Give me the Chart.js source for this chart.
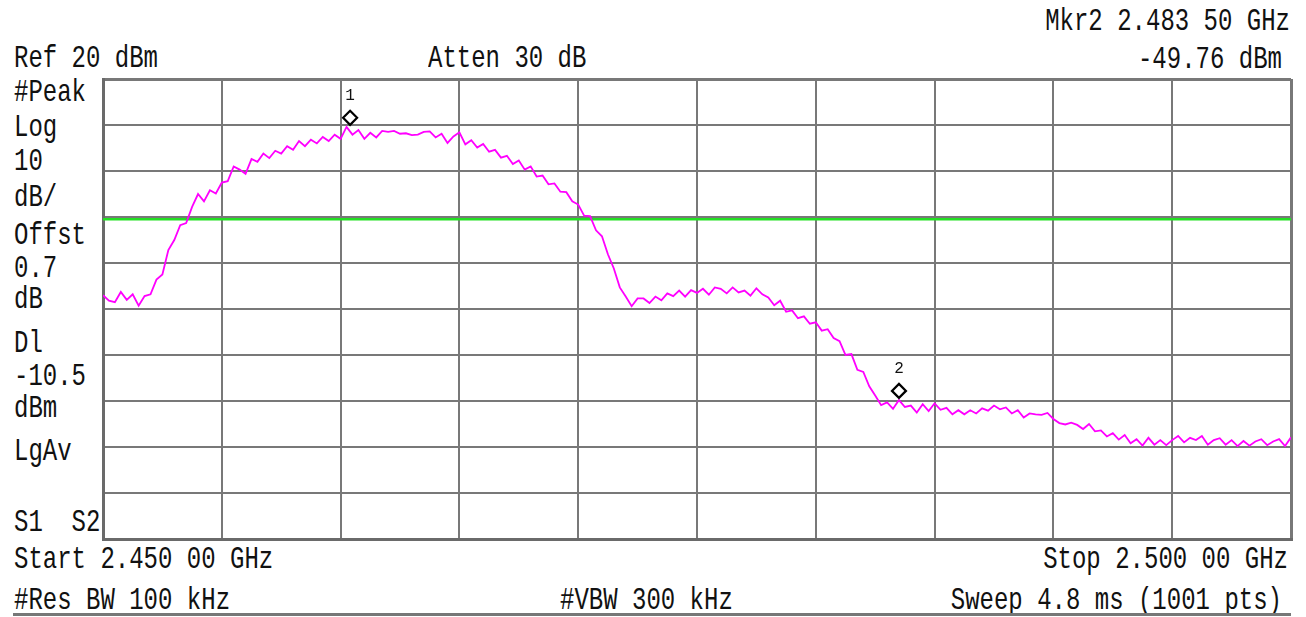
<!DOCTYPE html>
<html>
<head>
<meta charset="utf-8">
<script src="https://cdn.jsdelivr.net/npm/chart.js@4.4.1/dist/chart.umd.min.js"></script>
<style>
  html,body{margin:0;padding:0;background:#fff;}
  body{width:1306px;height:617px;overflow:hidden;position:relative;}
  .t{position:absolute;font-family:'Liberation Mono',monospace;font-size:24px;line-height:24px;white-space:pre;color:#111;transform:scaleY(1.27);transform-origin:0 0;}
  .r{transform-origin:100% 0;}
  #wrap{position:absolute;left:100px;top:76px;width:1194px;height:466px;}
  #rule{position:absolute;left:13px;top:613px;width:1278px;height:3px;background:#777;}
</style>
</head>
<body>
<div class="t r" style="right:16px;top:7px;">Mkr2 2.483 50 GHz</div>
<div class="t r" style="right:24px;top:45px;">-49.76 dBm</div>
<div class="t" style="left:14px;top:44px;">Ref 20 dBm</div>
<div class="t" style="left:428px;top:44px;">Atten 30 dB</div>

<div class="t" style="left:14px;top:78px;">#Peak</div>
<div class="t" style="left:14px;top:113px;">Log</div>
<div class="t" style="left:14px;top:147px;">10</div>
<div class="t" style="left:14px;top:183px;">dB/</div>
<div class="t" style="left:14px;top:221px;">Offst</div>
<div class="t" style="left:14px;top:254px;">0.7</div>
<div class="t" style="left:14px;top:285px;">dB</div>
<div class="t" style="left:14px;top:329px;">Dl</div>
<div class="t" style="left:14px;top:362px;">-10.5</div>
<div class="t" style="left:14px;top:394px;">dBm</div>
<div class="t" style="left:14px;top:437px;">LgAv</div>
<div class="t" style="left:14px;top:508px;">S1  S2</div>

<div class="t" style="left:14px;top:545px;">Start 2.450 00 GHz</div>
<div class="t r" style="right:18px;top:545px;">Stop 2.500 00 GHz</div>
<div class="t" style="left:14px;top:586px;">#Res BW 100 kHz</div>
<div class="t" style="left:560px;top:586px;">#VBW 300 kHz</div>
<div class="t r" style="right:24px;top:586px;">Sweep 4.8 ms (1001 pts)</div>
<div id="rule"></div>

<div id="wrap"><canvas id="c"></canvas></div>

<script>
// ---- data ----
const startFreqMHz = 2450;
const stopFreqMHz = 2500;
const freqTicksMHz = [2450, 2455, 2460, 2465, 2470, 2475, 2480, 2485, 2490, 2495, 2500];
const refLevelDbm = 20;
const bottomLevelDbm = -80;
const displayLineDbm = -10.5;

// trace levels (dBm), evenly spaced over the sweep
const traceLevels = [
 -27.0,-28.2,-28.5,-26.3,-28.0,-26.8,-29.3,-27.2,-26.8,-23.6,
 -22.5,-17.2,-15.0,-11.8,-11.3,-7.8,-5.0,-6.6,-4.2,-4.9,
 -2.5,-2.2,1.0,0.3,-0.6,2.6,2.0,3.8,2.8,4.4,
 3.8,5.4,4.6,6.5,5.4,6.8,6.0,7.4,6.5,7.9,
 7.0,9.6,7.9,8.9,7.0,8.3,7.3,8.7,8.5,8.7,
 8.1,8.2,7.8,7.9,8.5,8.6,7.3,8.1,6.1,7.5,
 8.4,5.8,6.7,5.1,5.9,4.2,4.6,2.9,3.3,1.5,
 2.3,0.3,1.0,-1.2,-1.0,-2.9,-2.7,-4.5,-4.6,-6.6,
 -7.3,-9.7,-9.8,-12.9,-14.2,-18.1,-21.2,-25.3,-27.3,-29.4,
 -27.7,-27.7,-28.7,-27.3,-28.1,-26.6,-27.2,-26.0,-27.3,-25.9,
 -26.5,-25.6,-26.9,-25.3,-25.6,-26.6,-25.3,-26.4,-26.0,-27.1,
 -25.5,-26.8,-27.5,-29.2,-28.2,-30.6,-30.3,-32.0,-31.6,-33.2,
 -32.9,-34.7,-34.4,-36.3,-37.0,-40.0,-39.8,-43.2,-43.7,-46.8,
 -48.8,-50.9,-50.3,-51.7,-49.8,-51.3,-51.0,-52.5,-50.7,-52.2,
 -50.5,-51.9,-51.5,-52.9,-52.0,-52.9,-52.0,-52.7,-51.6,-52.1,
 -51.0,-51.8,-51.4,-52.7,-52.0,-53.6,-52.7,-52.9,-53.0,-52.6,
 -53.9,-54.8,-55.1,-54.7,-55.2,-56.1,-55.0,-56.6,-56.4,-57.7,
 -57.0,-58.4,-57.4,-59.2,-58.3,-59.7,-58.0,-59.5,-58.5,-59.6,
 -58.5,-57.6,-59.0,-58.0,-58.5,-57.6,-59.5,-58.5,-58.1,-59.5,
 -58.5,-59.8,-58.7,-59.7,-58.8,-58.3,-59.6,-58.8,-58.3,-59.8,
 -57.9
];

const markerFreqsMHz = [2460.40, 2483.50];
const markerLevelsDbm = [9.6, -49.76];
const markerLabels = ['1', '2'];

// ---- build ----
const n = traceLevels.length;
const traceData = traceLevels.map((v, i) => ({
  x: startFreqMHz + i * (stopFreqMHz - startFreqMHz) / (n - 1),
  y: v
}));
const dlData = [{x: startFreqMHz, y: displayLineDbm}, {x: stopFreqMHz, y: displayLineDbm}];

const markerPlugin = {
  id: 'markers',
  afterDatasetsDraw(chart) {
    const {ctx, scales} = chart;
    ctx.save();
    markerFreqsMHz.forEach((f, k) => {
      const px = scales.x.getPixelForValue(f);
      const py = scales.y.getPixelForValue(markerLevelsDbm[k]) - 9;
      const s = 7;
      ctx.beginPath();
      ctx.moveTo(px, py - s);
      ctx.lineTo(px + s, py);
      ctx.lineTo(px, py + s);
      ctx.lineTo(px - s, py);
      ctx.closePath();
      ctx.fillStyle = '#fff';
      ctx.fill();
      ctx.lineWidth = 2.2;
      ctx.strokeStyle = '#000';
      ctx.stroke();
      ctx.fillStyle = '#111';
      ctx.font = '16px "Liberation Mono", monospace';
      ctx.textAlign = 'center';
      ctx.textBaseline = 'middle';
      ctx.fillText(markerLabels[k], px, py - 22);
    });
    ctx.restore();
  }
};

const edgeWidth = (c) => (c.index === 0 || c.index === (c.scale.ticks.length - 1)) ? 3 : 2;

new Chart(document.getElementById('c'), {
  type: 'line',
  data: {
    datasets: [
      { data: traceData, borderColor: '#ff00ff', borderWidth: 1.8, pointRadius: 0, tension: 0, order: 0 },
      { data: dlData, borderColor: '#22e022', borderWidth: 2.5, pointRadius: 0, order: 1 }
    ]
  },
  options: {
    responsive: true,
    maintainAspectRatio: false,
    animation: false,
    layout: { padding: 3 },
    plugins: { legend: { display: false }, tooltip: { enabled: false }, title: { display: false } },
    scales: {
      x: {
        type: 'linear',
        min: startFreqMHz, max: stopFreqMHz,
        afterBuildTicks: (axis) => { axis.ticks = freqTicksMHz.map(v => ({value: v})); },
        ticks: { display: false },
        grid: { color: '#787878', lineWidth: edgeWidth, drawTicks: false },
        border: { display: true, color: '#6a6a6a', width: 3 }
      },
      y: {
        type: 'linear',
        min: bottomLevelDbm, max: refLevelDbm,
        ticks: { display: false, stepSize: 10 },
        grid: { color: '#787878', lineWidth: edgeWidth, drawTicks: false },
        border: { display: true, color: '#6a6a6a', width: 3 }
      }
    }
  },
  plugins: [markerPlugin]
});
</script>
</body>
</html>
